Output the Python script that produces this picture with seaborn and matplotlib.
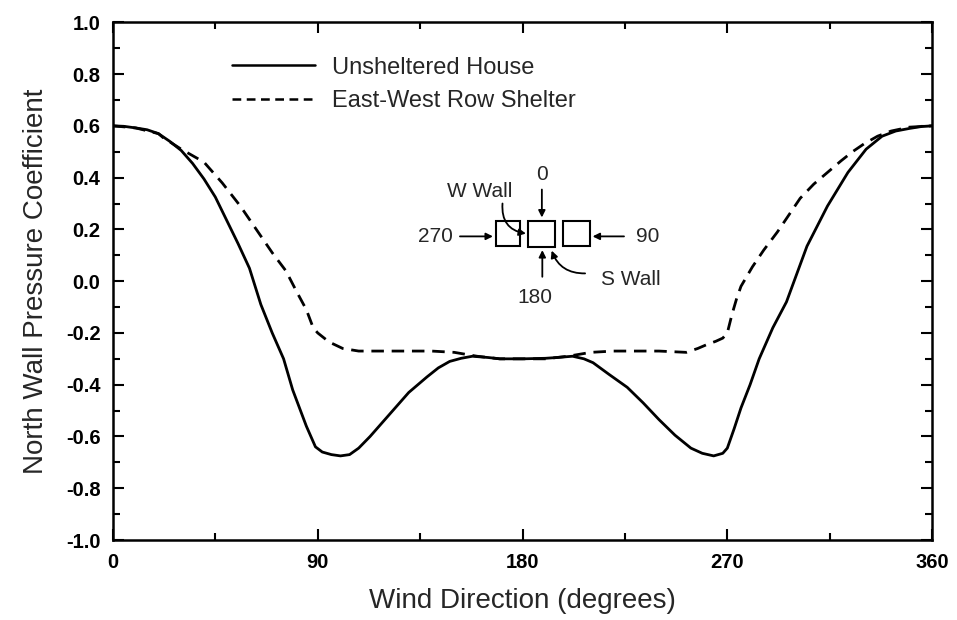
import numpy as np
import pandas as pd
import matplotlib
matplotlib.use("Agg")
import matplotlib.pyplot as plt
import seaborn as sns
from matplotlib.patches import Rectangle
from matplotlib.ticker import MultipleLocator

# ---- data ----
unsheltered_deg = [0, 5, 10, 15, 20, 25, 30, 35, 40, 45, 50, 55, 60, 65, 70, 75, 79, 85, 89, 92,
                   96, 100, 104, 108, 113, 118, 123, 130, 138, 143, 148, 153, 158, 165, 170, 180,
                   190, 195, 202, 207, 211, 218, 226, 233, 240, 247, 254, 259, 264, 268, 270, 273,
                   276, 280, 284, 290, 296, 305, 314, 323, 331, 338, 344, 350, 355, 360]
unsheltered_cp = [0.600, 0.598, 0.592, 0.585, 0.570, 0.540, 0.505, 0.455, 0.395, 0.325, 0.235,
                  0.145, 0.050, -0.090, -0.200, -0.300, -0.420, -0.560, -0.640, -0.660, -0.670,
                  -0.675, -0.670, -0.645, -0.600, -0.550, -0.500, -0.430, -0.370, -0.335, -0.310,
                  -0.298, -0.290, -0.295, -0.300, -0.300, -0.298, -0.295, -0.290, -0.300, -0.315,
                  -0.360, -0.410, -0.470, -0.535, -0.595, -0.645, -0.665, -0.675, -0.665, -0.645,
                  -0.570, -0.490, -0.400, -0.300, -0.180, -0.080, 0.135, 0.290, 0.420, 0.510,
                  0.560, 0.580, 0.590, 0.597, 0.600]

shelter_deg = [0, 10, 20, 22, 30, 40, 48, 56, 63, 70, 76, 81, 85, 88, 90, 95, 101, 108, 120, 140,
               150, 160, 170, 180, 190, 200, 210, 220, 240, 252, 257, 261, 265, 268, 270, 272,
               274, 276, 281, 286, 292, 302, 308, 314, 320, 325, 330, 336, 342, 350, 360]
shelter_cp = [0.600, 0.592, 0.570, 0.555, 0.510, 0.460, 0.380, 0.290, 0.200, 0.110, 0.040,
              -0.045, -0.110, -0.180, -0.200, -0.235, -0.260, -0.270, -0.270, -0.270, -0.275,
              -0.290, -0.300, -0.300, -0.300, -0.290, -0.275, -0.270, -0.270, -0.275, -0.260,
              -0.245, -0.232, -0.220, -0.200, -0.130, -0.070, -0.020, 0.055, 0.120, 0.190,
              0.320, 0.375, 0.420, 0.465, 0.500, 0.530, 0.560, 0.580, 0.595, 0.600]

series_names = ["Unsheltered House", "East-West Row Shelter"]
x_ticks = [0, 90, 180, 270, 360]
y_ticks = [-1.0, -0.8, -0.6, -0.4, -0.2, 0.0, 0.2, 0.4, 0.6, 0.8, 1.0]

df_u = pd.DataFrame({"deg": unsheltered_deg, "cp": unsheltered_cp})
df_s = pd.DataFrame({"deg": shelter_deg, "cp": shelter_cp})

sns.set_style("ticks")
plt.rcParams["font.family"] = ["Liberation Sans", "DejaVu Sans"]

fig = plt.figure(figsize=(9.57, 6.2), dpi=100)
ax = fig.add_axes([0.118, 0.129, 0.856, 0.835])

sns.lineplot(data=df_u, x="deg", y="cp", ax=ax, color="black", lw=2.0,
             label=series_names[0], sort=False)
sns.lineplot(data=df_s, x="deg", y="cp", ax=ax, color="black", lw=2.0,
             label=series_names[1], sort=False, dashes=False)
ax.lines[1].set_linestyle((0, (4.5, 2.8)))

ax.set_xlim(0, 360)
ax.set_ylim(-1.0, 1.0)
ax.set_xticks(x_ticks)
ax.set_yticks(y_ticks)
ax.set_xticklabels([str(t) for t in x_ticks])
ax.set_yticklabels([f"{t:.1f}" for t in y_ticks])
ax.xaxis.set_minor_locator(MultipleLocator(45))
ax.yaxis.set_minor_locator(MultipleLocator(0.1))
ax.tick_params(which="both", direction="in", top=True, right=True, width=1.5, colors="black")
ax.tick_params(which="major", length=8, labelsize=14.5, pad=9)
ax.tick_params(which="minor", length=5)
for lab in ax.get_xticklabels() + ax.get_yticklabels():
    lab.set_fontweight("bold")
for sp in ax.spines.values():
    sp.set_visible(True)
    sp.set_linewidth(1.8)
    sp.set_color("black")

ax.set_xlabel("Wind Direction (degrees)", fontsize=20, labelpad=12)
ax.set_ylabel("North Wall Pressure Coefficient", fontsize=20, labelpad=12)

leg = ax.legend(loc="upper left", bbox_to_anchor=(0.12, 0.975), frameon=False,
                fontsize=17, handlelength=3.5, handletextpad=0.7, labelspacing=0.5)
for h in leg.get_lines():
    h.set_linewidth(1.8)
leg.get_lines()[1].set_linestyle((0, (3.5, 2.2)))

# ---- inset diagram ----
kw_box = dict(fill=False, edgecolor="black", lw=1.5)
ax.add_patch(Rectangle((168.2, 0.135), 10.7, 0.097, **kw_box))
ax.add_patch(Rectangle((182.5, 0.133), 11.8, 0.098, **kw_box))
ax.add_patch(Rectangle((197.9, 0.135), 11.8, 0.097, **kw_box))

tfs = 15
ax.text(188.5, 0.412, "0", ha="center", va="center", fontsize=tfs)
ax.text(161.0, 0.346, "W Wall", ha="center", va="center", fontsize=tfs)
ax.text(141.8, 0.173, "270", ha="center", va="center", fontsize=tfs)
ax.text(235.0, 0.173, "90", ha="center", va="center", fontsize=tfs)
ax.text(185.5, -0.064, "180", ha="center", va="center", fontsize=tfs)
ax.text(227.5, 0.006, "S Wall", ha="center", va="center", fontsize=tfs)

ap = dict(arrowstyle="-|>", color="black", lw=1.3, mutation_scale=10,
          shrinkA=0, shrinkB=0)
ax.annotate("", xy=(188.5, 0.246), xytext=(188.5, 0.354), arrowprops=ap)
ax.annotate("", xy=(167.0, 0.173), xytext=(152.5, 0.173), arrowprops=ap)
ax.annotate("", xy=(210.8, 0.173), xytext=(224.6, 0.173), arrowprops=ap)
ax.annotate("", xy=(188.7, 0.120), xytext=(188.7, 0.017), arrowprops=ap)
ax.annotate("", xy=(181.5, 0.184), xytext=(171.2, 0.300),
            arrowprops=dict(ap, connectionstyle="arc3,rad=0.45"))
ax.annotate("", xy=(192.8, 0.118), xytext=(207.5, 0.030),
            arrowprops=dict(ap, connectionstyle="arc3,rad=-0.35"))

fig.savefig("out.png", dpi=100)
